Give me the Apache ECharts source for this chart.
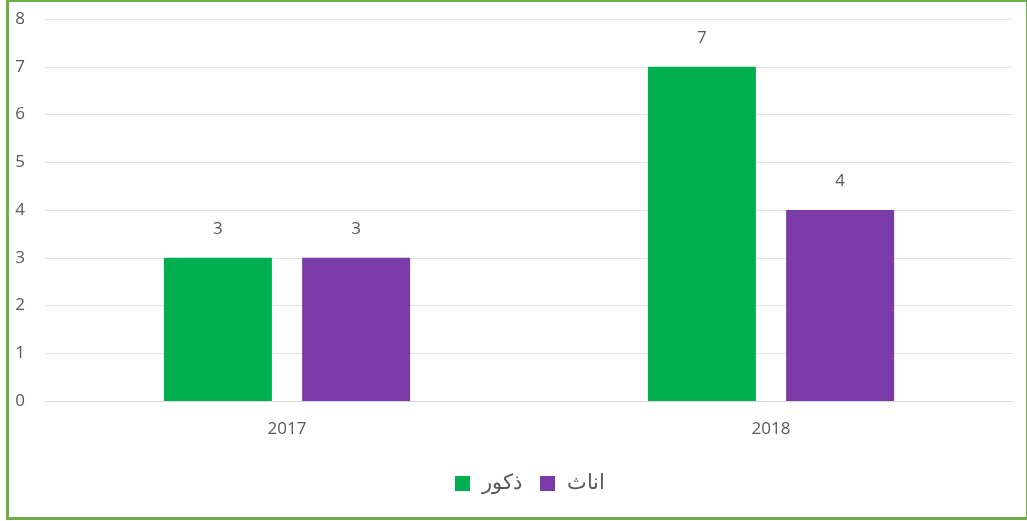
<!DOCTYPE html>
<html>
<head>
<meta charset="utf-8">
<script src="https://cdn.jsdelivr.net/npm/echarts@6/dist/echarts.min.js"></script>
<style>
html,body{margin:0;padding:0;background:#fff;}
#frame{position:absolute;left:6px;top:-1px;width:1017px;height:515px;border:3px solid #70AD47;}
#chart{position:absolute;left:0;top:0;width:1027px;height:521px;}
</style>
</head>
<body>
<div id="frame"></div>
<div id="chart"></div>
<script>
var years = ['2017', '2018'];
var males = [3, 7];
var females = [3, 4];
var seriesNames = ['ذكور', 'اناث'];

var chart = echarts.init(document.getElementById('chart'));

var labelStyle = {
    show: true,
    position: 'top',
    distance: 20,
    color: '#595959',
    fontSize: 17,
    fontFamily: 'Open Sans'
};

chart.setOption({
    animation: false,
    textStyle: { fontFamily: 'Open Sans' },
    grid: { left: 45, right: 14, top: 19, bottom: 120 },
    legend: {
        top: 468,
        left: 450,
        itemWidth: 15,
        itemHeight: 15,
        itemGap: 18,
        icon: 'rect',
        data: seriesNames,
        textStyle: { color: '#595959', fontSize: 21, fontFamily: 'Noto Sans', padding: [0, 0, 0, 7] }
    },
    xAxis: {
        type: 'category',
        data: years,
        axisLine: { lineStyle: { color: '#d9d9d9' } },
        axisTick: { show: false },
        axisLabel: { color: '#595959', fontSize: 17, margin: 20 }
    },
    yAxis: {
        type: 'value',
        min: 0,
        max: 8,
        interval: 1,
        axisLine: { show: false },
        axisTick: { show: false },
        splitLine: { lineStyle: { color: '#e3e3e3' } },
        axisLabel: { color: '#595959', fontSize: 17, margin: 20 }
    },
    series: [
        {
            name: seriesNames[0],
            type: 'bar',
            data: males,
            itemStyle: { color: '#00B050' },
            barWidth: 108,
            barGap: '28%',
            label: labelStyle
        },
        {
            name: seriesNames[1],
            type: 'bar',
            data: females,
            itemStyle: { color: '#7A3BA8' },
            barWidth: 108,
            label: labelStyle
        }
    ]
});
</script>
</body>
</html>
